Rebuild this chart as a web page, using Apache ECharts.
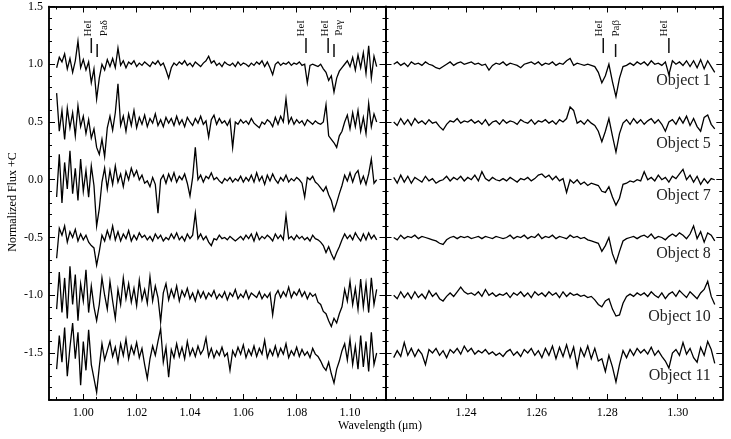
<!DOCTYPE html>
<html><head><meta charset="utf-8">
<script src="https://cdn.jsdelivr.net/npm/echarts@6/dist/echarts.min.js"></script>
<style>html,body{margin:0;padding:0;background:#fff}#c{width:731px;height:439px}</style>
</head><body><div id="c"></div>
<script>
// ---------------- DATA ----------------
const objectNames = ['Object 1','Object 5','Object 7','Object 8','Object 10','Object 11'];
const offsetsC = [0, -0.5, -1.0, -1.5, -2.0, -2.5];

// wavelength sampling (micron)
const leftStart = 0.990, leftStep = 0.001;
const rightStart = 1.2195, rightStep = 0.001;

const obj1L = [0.97,1.06,1.02,1.09,0.96,1.05,0.93,1.03,1.20,0.97,
1.04,0.95,1.02,0.84,0.96,0.70,0.88,1.00,0.95,1.04,
0.98,1.05,0.97,1.14,0.99,1.03,0.97,1.02,1.00,1.03,
0.98,1.01,0.99,1.02,1.00,0.98,1.02,1.00,1.03,0.99,
1.01,0.95,0.88,0.97,1.01,0.99,1.02,1.00,1.03,0.99,
1.01,0.98,1.02,1.00,0.98,1.01,1.03,1.07,1.01,1.03,
0.99,1.01,0.98,1.02,1.00,0.99,1.01,0.98,1.02,0.99,
1.01,1.00,0.98,1.01,0.99,1.02,1.00,1.03,0.98,1.02,
0.97,0.91,1.00,1.02,0.99,1.01,1.00,1.02,0.99,1.01,
1.00,1.02,0.99,1.00,0.84,0.99,1.00,0.99,0.98,1.00,
0.96,0.93,0.86,0.90,0.76,0.88,0.94,0.97,1.00,1.03,
0.98,1.06,0.95,1.08,0.97,1.10,0.92,1.16,0.88,1.07,
0.98];
const obj5L = [1.25,0.92,1.10,0.85,1.12,0.95,1.08,0.88,1.14,0.96,
1.05,0.90,1.02,0.86,0.94,0.78,0.72,0.85,0.70,0.95,
1.05,0.93,1.08,1.33,0.97,1.05,0.92,1.07,0.97,1.10,
0.95,1.04,0.98,1.06,0.96,1.03,0.99,1.07,0.97,1.02,
0.96,1.04,0.99,1.03,0.97,1.05,0.98,1.02,0.96,1.04,
1.00,0.97,1.03,0.99,1.05,0.98,1.01,0.87,1.02,1.06,
0.98,1.03,0.99,1.01,0.97,1.02,0.78,1.00,0.98,1.02,
0.99,1.01,0.98,1.03,0.99,0.97,0.95,1.00,0.98,1.02,
1.00,0.96,1.04,0.98,1.05,1.00,1.20,0.99,1.04,0.98,
1.02,0.99,1.01,0.97,1.02,1.00,0.98,1.01,0.99,0.98,
1.00,1.15,0.88,0.85,0.82,0.78,0.88,0.92,1.00,1.06,
0.94,1.08,0.96,1.10,0.92,1.04,0.90,1.16,0.96,1.07,
1.00];
const obj7L = [0.85,1.22,0.80,1.15,0.92,1.25,0.88,1.10,0.82,1.18,
0.90,1.08,0.85,1.12,0.95,0.60,0.75,0.98,1.10,0.92,
1.08,0.96,1.12,0.98,1.05,0.94,1.07,1.00,1.10,1.03,
1.08,1.00,1.04,0.97,0.99,0.94,1.02,0.96,0.71,1.00,
1.04,0.97,1.05,0.99,1.06,0.98,1.03,1.00,1.05,0.97,
0.86,1.02,1.28,1.00,1.04,0.98,1.03,1.01,1.06,1.00,
1.02,0.99,0.97,1.01,0.99,1.02,0.98,1.01,0.99,1.03,
0.98,1.02,0.99,1.04,0.98,1.06,0.99,1.03,0.96,1.04,
0.99,1.05,1.00,0.97,1.02,0.99,1.04,0.98,1.01,0.99,
1.02,1.00,0.97,0.85,1.02,1.00,1.03,0.98,0.96,0.93,
0.90,0.94,0.87,0.82,0.73,0.80,0.88,0.95,1.04,0.99,
1.06,0.98,1.05,1.08,0.97,1.03,0.96,1.05,1.18,0.97,
1.00];
const obj8L = [0.82,1.08,1.02,1.10,0.96,1.05,1.00,1.07,0.97,1.03,
0.98,1.02,0.96,0.93,0.91,0.76,0.88,1.02,0.97,1.06,
0.99,1.10,0.98,1.05,0.97,1.03,0.99,1.06,0.97,1.02,
0.98,1.04,1.00,1.02,0.98,1.01,0.97,1.03,0.99,1.02,
0.97,1.00,0.98,1.03,0.99,1.04,0.98,1.01,0.97,1.03,
0.99,1.02,1.21,0.99,1.03,0.98,1.01,0.96,0.93,0.99,
0.98,1.02,0.99,1.00,0.98,1.01,0.99,0.97,0.99,1.01,
0.98,1.02,0.99,1.03,0.97,1.04,0.98,1.01,0.99,1.02,
1.00,0.97,1.03,0.99,1.02,0.98,1.19,0.99,1.01,0.98,
1.02,0.99,1.01,0.98,1.00,0.97,1.02,0.99,0.98,0.96,
0.93,0.87,0.92,0.86,0.81,0.87,0.92,0.98,1.03,0.99,
1.02,0.98,1.04,1.00,0.97,1.03,0.98,1.04,0.99,1.02,
0.98];
const obj10L = [0.88,1.20,0.85,1.15,0.80,1.25,0.92,1.18,0.78,1.10,
0.95,1.22,0.85,1.08,0.90,0.78,0.92,1.15,1.00,0.88,
1.12,0.95,0.80,1.05,0.92,1.15,0.97,1.10,0.94,1.06,
0.91,1.13,0.96,1.05,0.93,1.16,0.95,1.08,0.98,0.77,
1.02,1.10,0.96,1.05,0.98,1.08,0.95,1.04,0.99,1.06,
0.97,1.02,0.95,1.04,0.98,1.03,0.97,1.02,0.99,1.04,
0.97,1.01,0.98,1.03,0.96,1.02,0.99,1.05,0.97,1.01,
0.98,1.04,0.97,1.02,1.00,0.98,1.03,0.97,1.01,0.98,
1.02,0.83,1.00,1.04,0.98,1.03,0.99,1.07,0.98,1.03,
1.00,1.05,0.99,1.03,0.97,1.02,0.99,1.01,0.94,0.92,
0.86,0.84,0.78,0.73,0.80,0.76,0.84,0.90,1.05,0.95,
1.12,0.92,1.06,0.88,1.14,0.90,1.10,0.85,1.15,0.92,
1.05];
const obj11L = [0.86,1.15,0.92,1.22,0.80,1.05,1.26,0.95,1.18,0.72,
1.10,0.85,1.20,0.90,0.78,0.66,0.88,1.08,0.94,1.02,
1.10,0.97,1.05,0.92,1.08,0.98,1.12,0.95,1.06,0.99,
1.09,0.96,1.04,0.90,0.78,0.95,1.06,0.98,1.10,1.21,
0.92,1.05,0.79,1.03,0.96,1.08,0.97,1.05,0.95,1.10,
0.98,1.04,0.97,1.06,0.99,1.03,1.13,0.97,1.04,0.96,
1.02,0.98,1.05,0.97,1.00,0.85,1.02,0.97,1.05,0.99,
1.07,0.96,1.03,0.98,1.06,0.97,1.04,0.99,1.11,0.96,
1.03,0.98,1.06,0.97,1.04,0.99,1.08,0.96,1.02,0.98,
1.05,0.97,1.03,0.98,1.01,0.96,1.04,0.99,0.97,0.93,
0.88,0.85,0.92,0.82,0.74,0.86,0.93,1.02,1.08,0.94,
1.12,0.90,1.06,0.86,1.15,0.88,1.10,0.84,1.18,0.90,
1.00];

const obj1R = [1.00,1.02,0.99,1.01,0.98,1.02,1.00,1.01,0.99,1.02,
1.00,0.99,0.97,0.96,0.98,1.00,1.02,0.99,1.01,1.02,
1.00,1.01,1.02,1.00,1.01,0.99,1.00,0.95,0.99,1.01,
1.00,1.02,0.99,1.01,1.00,0.99,0.97,1.00,1.01,1.02,
1.00,1.02,0.99,1.01,1.00,1.02,0.99,1.01,1.00,1.03,
1.05,0.99,1.01,1.00,0.99,1.00,0.99,0.98,0.93,0.84,
0.90,1.00,0.85,0.72,0.88,0.98,0.99,1.01,0.99,1.02,
1.00,1.02,0.99,1.03,1.00,1.01,0.99,1.02,0.91,1.03,
1.00,1.02,0.99,1.03,0.98,1.03,0.97,1.04,0.96,1.03,
0.98,0.93];
const obj5R = [1.00,0.97,1.03,0.98,1.02,0.97,1.03,0.99,1.01,0.98,
1.02,0.99,1.00,0.96,0.93,0.98,1.01,1.00,1.03,0.99,
1.01,1.00,1.02,0.99,1.01,0.98,1.02,0.97,1.00,1.01,
0.98,1.02,0.99,1.01,1.00,0.98,1.02,1.00,0.99,1.02,
0.98,1.01,1.00,1.02,0.99,1.01,0.98,1.02,1.00,1.03,
1.13,1.10,0.99,1.01,0.98,1.02,0.99,0.97,0.92,0.83,
0.92,1.03,0.88,0.74,0.90,0.99,1.02,0.98,1.03,0.99,
1.02,0.98,1.01,1.03,0.99,1.02,0.98,0.92,1.00,1.02,
0.98,1.04,0.99,1.05,0.97,1.03,0.96,0.92,1.04,1.06,
0.98,0.94];
const obj7R = [1.02,0.97,1.04,0.98,1.03,0.97,1.02,1.00,0.98,1.03,
0.99,1.01,0.97,0.99,1.00,1.03,0.99,1.02,1.00,1.03,
0.99,1.02,1.00,1.04,0.99,1.07,1.01,0.99,1.02,1.00,
0.99,1.01,0.99,1.02,1.00,0.98,1.01,1.00,1.02,0.99,
1.01,1.04,1.05,1.02,1.04,1.00,1.03,0.99,1.01,0.89,
1.00,0.97,1.00,0.96,0.98,0.95,0.97,0.96,0.95,0.90,
0.89,0.94,0.85,0.78,0.84,0.96,0.97,0.99,0.98,1.00,
0.99,1.07,1.00,1.02,0.99,1.04,1.00,1.02,0.98,1.03,
1.01,1.05,1.09,1.00,1.04,0.98,1.03,0.96,1.01,0.97,
1.01,1.00];
const obj8R = [1.00,0.98,1.02,0.99,1.01,1.00,1.02,0.99,1.01,1.00,
0.99,0.98,0.97,0.95,0.94,0.98,1.00,1.01,0.99,1.01,
1.00,1.01,0.99,1.00,1.01,0.99,1.01,1.00,0.99,1.01,
1.00,0.99,1.00,1.02,0.99,1.01,1.00,1.02,0.99,1.01,
1.00,1.03,0.99,1.01,1.00,1.02,0.99,1.01,1.00,0.99,
1.02,1.00,1.01,0.99,1.00,0.98,0.97,0.96,0.95,0.88,
0.93,1.00,0.86,0.78,0.88,0.97,0.99,1.00,1.01,0.99,
1.01,1.02,1.00,1.03,0.99,1.01,1.00,0.98,1.01,1.03,
1.01,1.04,1.02,0.99,1.03,1.10,0.99,1.05,0.96,1.04,
1.02,0.97];
const obj10R = [1.00,0.97,1.03,0.98,1.02,0.97,1.03,0.98,1.01,0.97,
1.04,0.99,1.02,0.97,0.95,0.99,1.02,0.99,1.03,1.07,
1.03,1.01,1.02,1.00,1.03,0.99,1.05,1.00,1.02,0.99,
1.01,1.00,1.02,0.98,1.02,1.00,1.03,0.99,1.02,0.98,
1.03,1.00,1.02,0.99,1.03,1.00,1.02,0.98,1.03,0.99,
1.02,1.00,1.01,0.99,1.00,0.98,0.99,0.96,0.92,0.90,
0.95,0.97,0.88,0.82,0.83,0.93,0.99,1.01,0.99,1.02,
1.00,1.02,0.99,1.03,1.00,0.98,1.02,0.97,1.01,1.03,
0.99,1.04,1.01,0.98,1.03,1.00,0.97,1.02,1.05,1.12,
0.99,0.92];
const obj11R = [0.96,1.02,0.97,1.09,0.98,1.04,0.97,1.03,0.99,0.90,
1.03,1.00,1.04,0.98,1.02,0.96,1.03,1.00,1.04,0.99,
1.06,1.01,1.04,0.99,1.02,1.00,1.03,0.99,1.01,0.98,
1.00,0.97,1.01,1.03,0.98,1.01,0.97,1.03,1.00,1.04,
0.98,1.02,0.96,1.04,0.98,1.06,0.95,1.05,0.97,1.07,
0.96,1.05,0.88,1.04,0.97,1.06,0.95,1.04,0.93,0.95,
0.84,0.98,0.88,0.75,0.90,1.02,0.96,1.03,0.98,1.04,
1.00,1.03,0.99,1.05,0.98,1.02,0.97,0.93,0.87,1.00,
1.03,0.98,1.09,0.99,1.04,0.96,0.92,1.05,0.98,1.10,
1.03,0.91];

const leftSpectra = [obj1L, obj5L, obj7L, obj8L, obj10L, obj11L];
const rightSpectra = [obj1R, obj5R, obj7R, obj8R, obj10R, obj11R];

// line identifications
const annLeftLam = [1.0030, 1.0052, 1.0835, 1.0918, 1.0940];
const annLeftText = ['HeI', 'Paδ', 'HeI', 'HeI', 'Paγ'];
const annRightLam = [1.2789, 1.2824, 1.2975];
const annRightText = ['HeI', 'Paβ', 'HeI'];

// tick labels
const leftXTicks = [1.00, 1.02, 1.04, 1.06, 1.08, 1.10];
const rightXTicks = [1.24, 1.26, 1.28, 1.30];
const yTicks = [-1.5, -1.0, -0.5, 0.0, 0.5, 1.0, 1.5];

// ---------------- LAYOUT ----------------
const FONT = '"Liberation Serif", "DejaVu Serif", serif';
const xLim = [[0.98714, 1.11331], [1.21718, 1.31264]];
const yLim = [-1.907, 1.5];
function steps(a, b, s) { const o = []; const n = Math.round((b - a) / s); for (let k = 0; k <= n; k++) o.push(+(a + k * s).toFixed(4)); return o; }
const xMinor = [steps(0.99, 1.11, 0.005), steps(1.22, 1.31, 0.005)];
const xMajor = [leftXTicks, rightXTicks];
const yMinor = steps(-1.9, 1.5, 0.1);

function mkAxis(dim, grid, pos, lim, ticks, len, labels, fmt) {
  return {
    type: 'value', gridIndex: grid, position: pos, min: lim[0], max: lim[1],
    axisLine: { show: true, onZero: false, lineStyle: { color: '#000', width: 1.5 } },
    axisTick: { show: true, inside: true, length: len, customValues: ticks, lineStyle: { color: '#000', width: 1 } },
    axisLabel: labels ? { show: true, customValues: labels, margin: dim === 'x' ? 7 : 6, color: '#000', fontFamily: FONT, fontSize: 12, formatter: fmt } : { show: false },
    splitLine: { show: false }, minorTick: { show: false }, minorSplitLine: { show: false }
  };
}
const xAxes = [], yAxes = [];
for (let g = 0; g < 2; g++) {
  const fx = v => v.toFixed(2), fy = v => v.toFixed(1);
  xAxes.push(mkAxis('x', g, 'bottom', xLim[g], xMajor[g], 6, xMajor[g], fx));
  xAxes.push(mkAxis('x', g, 'bottom', xLim[g], xMinor[g], 3, null));
  xAxes.push(mkAxis('x', g, 'top', xLim[g], xMajor[g], 6, null));
  xAxes.push(mkAxis('x', g, 'top', xLim[g], xMinor[g], 3, null));
  yAxes.push(mkAxis('y', g, 'left', yLim, yTicks, 6, g === 0 ? yTicks : null, fy));
  yAxes.push(mkAxis('y', g, 'left', yLim, yMinor, 3, null));
  yAxes.push(mkAxis('y', g, 'right', yLim, yTicks, 6, null));
  yAxes.push(mkAxis('y', g, 'right', yLim, yMinor, 3, null));
}

const series = [];
function addSeries(specs, start, step, axisIdx) {
  specs.forEach((arr, k) => {
    series.push({
      type: 'line', xAxisIndex: axisIdx, yAxisIndex: axisIdx, showSymbol: false, symbol: 'none',
      silent: true, animation: false, clip: true,
      lineStyle: { color: '#000', width: 1.3, join: 'miter' },
      data: arr.map((f, i) => [+(start + i * step).toFixed(4), +(f + offsetsC[k]).toFixed(3)])
    });
  });
}
addSeries(leftSpectra, leftStart, leftStep, 0);
addSeries(rightSpectra, rightStart, rightStep, 4);

const chart = echarts.init(document.getElementById('c'), null, { renderer: 'canvas' });
chart.setOption({
  animation: false,
  backgroundColor: '#fff',
  grid: [
    { left: 49, top: 6.5, width: 336.5, height: 393.5 },
    { left: 385.5, top: 6.5, width: 336.8, height: 393.5 }
  ],
  xAxis: xAxes, yAxis: yAxes, series: series
});

// annotations & labels
const F0 = { xAxisIndex: 0, yAxisIndex: 0 }, F1 = { xAxisIndex: 4, yAxisIndex: 4 };
const heLine = [1.227, 1.097], paLine = [1.175, 1.063], annTextTop = 1.383;
const leftDx = [-2.7, 7, -4.7, -3.5, 4.8], rightDx = [-4.5, 0.7, -4.7];
const gfx = [];
function addAnn(finder, lams, texts, dxs) {
  lams.forEach((lam, i) => {
    const isHe = texts[i].indexOf('He') === 0;
    const rng = isHe ? heLine : paLine;
    const p = chart.convertToPixel(finder, [lam, rng[0]]);
    const q = chart.convertToPixel(finder, [lam, rng[1]]);
    gfx.push({ type: 'line', silent: true, shape: { x1: p[0], y1: p[1], x2: q[0], y2: q[1] }, style: { stroke: '#111', lineWidth: 1.5 } });
    const t = chart.convertToPixel(finder, [lam, annTextTop]);
    gfx.push({ type: 'text', silent: true, x: t[0] + dxs[i], y: t[1], rotation: Math.PI / 2,
      style: { text: texts[i], font: '11px ' + FONT, fill: '#111', align: 'right', verticalAlign: 'middle' } });
  });
}
addAnn(F0, annLeftLam, annLeftText, leftDx);
addAnn(F1, annRightLam, annRightText, rightDx);

const labelLam = 1.3094, labelFlux = [0.856, 0.81, 0.865, 0.856, 0.81, 0.804];
objectNames.forEach((nm, k) => {
  const p = chart.convertToPixel(F1, [labelLam, labelFlux[k] + offsetsC[k]]);
  gfx.push({ type: 'text', silent: true, x: p[0], y: p[1],
    style: { text: nm, font: '16px ' + FONT, fill: '#222', align: 'right', verticalAlign: 'middle' } });
});
gfx.push({ type: 'text', silent: true, x: 13, y: 202, rotation: Math.PI / 2,
  style: { text: 'Normalized Flux +C', font: '12px ' + FONT, fill: '#000', align: 'center', verticalAlign: 'middle' } });
gfx.push({ type: 'text', silent: true, x: 380, y: 426,
  style: { text: 'Wavelength (μm)', font: '12px ' + FONT, fill: '#000', align: 'center', verticalAlign: 'middle' } });
chart.setOption({ graphic: { elements: gfx } });
</script></body></html>
